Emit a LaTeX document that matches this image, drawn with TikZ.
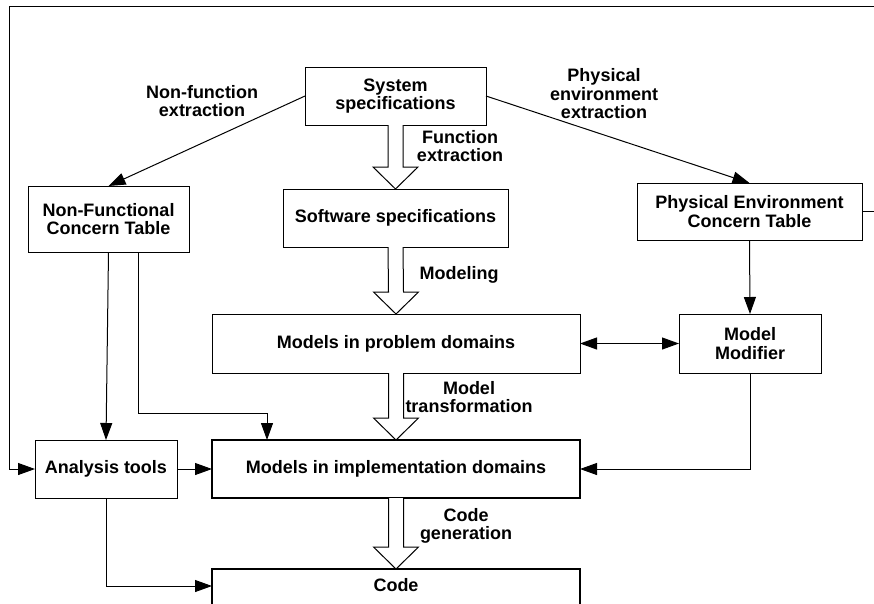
\documentclass[tikz,border=0pt]{standalone}
\usepackage{fontspec}
\setmainfont{Liberation Sans}
\usetikzlibrary{arrows.meta}

\tikzset{
    every node/.style={font=\fontsize{18}{18.5}\selectfont\bfseries},
    box/.style={draw, line width=1pt, inner sep=0pt, outer sep=0pt, align=center},
    thickbox/.style={box, line width=1.7pt},
    lbl/.style={align=center, inner sep=0pt},
    arr/.style={line width=1pt, -{Triangle[length=17pt,width=12pt]}},
    darr/.style={line width=1pt, {Triangle[length=17pt,width=12pt]}-{Triangle[length=17pt,width=12pt]}},
    hollow/.style={draw, line width=1pt, fill=white}
}

% wide open arrow from the bottom of #1 to the top of #2
\newcommand{\hollowarrow}[2]{
    \draw[hollow]
        ([xshift=-7.5pt]#1.south) -- ([xshift=-7.5pt,yshift=22pt]#2.north)
        -- ([xshift=-22.5pt,yshift=22pt]#2.north) -- (#2.north)
        -- ([xshift=22.5pt,yshift=22pt]#2.north) -- ([xshift=7.5pt,yshift=22pt]#2.north)
        -- ([xshift=7.5pt]#1.south);
}

\begin{document}
\begin{tikzpicture}[x=1pt, y=-1pt]
    \useasboundingbox (0,0) rectangle (874,603);
    \clip (0,0) rectangle (874,603);

    % boxes
    \node[box, minimum width=181pt, minimum height=58pt] (sysspec) at (395.5,96) {System\\specifications};
    \node[box, minimum width=225pt, minimum height=58pt] (swspec) at (395.5,218) {Software specifications};
    \node[box, minimum width=161pt, minimum height=66pt] (nfct) at (108.5,219) {Non-Functional\\Concern Table};
    \node[box, minimum width=225pt, minimum height=57pt] (pect) at (749.5,211.5) {Physical Environment\\Concern Table};
    \node[box, minimum width=368pt, minimum height=59pt] (mpd) at (396,343.5) {Models in problem domains};
    \node[box, minimum width=142pt, minimum height=59pt] (mm) at (750,343.5) {Model\\Modifier};
    \node[box, minimum width=142pt, minimum height=58pt] (at) at (106,469) {Analysis tools};
    \node[thickbox, minimum width=368pt, minimum height=58pt] (mid) at (396,469) {Models in implementation domains};
    \node[thickbox, minimum width=368pt, anchor=north, text height=22pt, text depth=50pt] (code) at (396,569) {Code};

    % edge labels
    \node[lbl] (lblnf) at (202,101) {Non-function\\extraction};
    \node[lbl] (lblpe) at (604,94) {Physical\\environment\\extraction};
    \node[lbl] (lblfe) at (460,146) {Function\\extraction};
    \node[lbl] (lblmod) at (459,275) {Modeling};
    \node[lbl] (lblmt) at (469,397) {Model\\transformation};
    \node[lbl] (lblcg) at (466,526) {Code\\generation};

    % bend points
    \coordinate (nfbend) at (138,413);
    \coordinate (midin) at (267,413);
    \coordinate (fbr) at (884,6);
    \coordinate (fbl) at (9,6);
    \coordinate (codein) at (212,586);

    % wide arrows
    \hollowarrow{sysspec}{swspec}
    \hollowarrow{swspec}{mpd}
    \hollowarrow{mpd}{mid}
    \hollowarrow{mid}{code}

    % thin arrows
    \draw[arr] (sysspec.west) -- (nfct.north);
    \draw[arr] (sysspec.east) -- (pect.north);
    \draw[arr] (pect.south) -- (mm.north);
    \draw[darr] (mpd.east) -- (mm.west);
    \draw[arr] (nfct.south) -- (at.north);
    \draw[arr] (nfct.south -| nfbend) -- (nfbend) -- (midin) -- (mid.north -| midin);
    \draw[arr] (pect.east) -| (fbr) -- (fbl) |- (at.west);
    \draw[arr] (at.east) -- (mid.west);
    \draw[arr] (mm.south) |- (mid.east);
    \draw[arr] (at.south) |- (codein);
\end{tikzpicture}
\end{document}
